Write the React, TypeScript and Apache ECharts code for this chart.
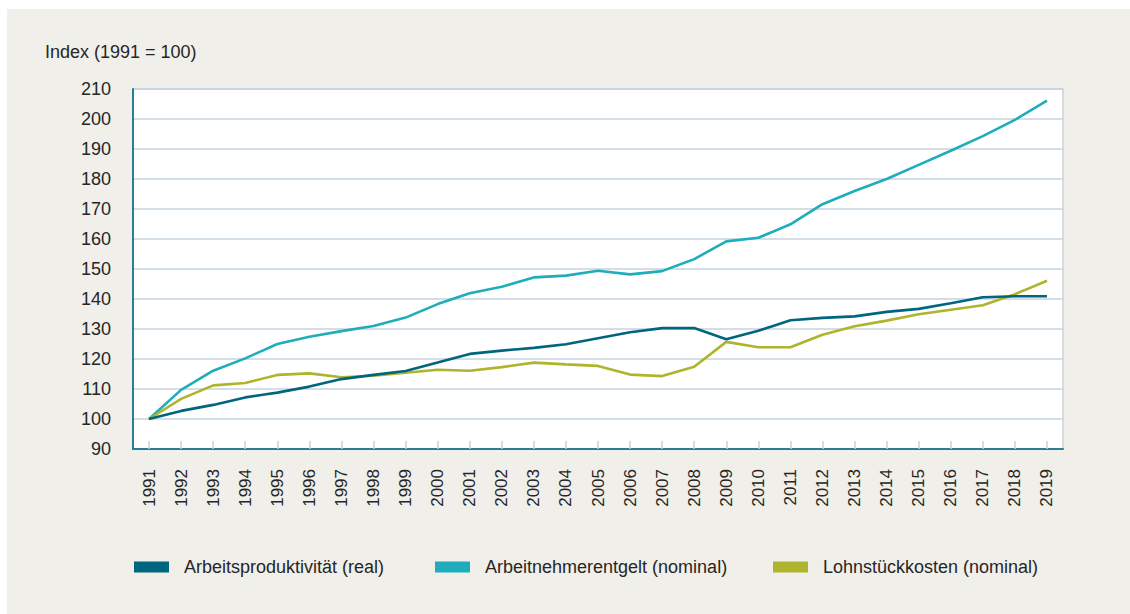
import React, { useEffect, useRef } from "react";
import * as echarts from "echarts";

const years = ["1991","1992","1993","1994","1995","1996","1997","1998","1999","2000","2001","2002","2003","2004","2005","2006","2007","2008","2009","2010","2011","2012","2013","2014","2015","2016","2017","2018","2019"];

const produktivitaet = [100, 102.7, 104.7, 107.2, 108.8, 110.8, 113.3, 114.7, 116.0, 118.8, 121.7, 122.8, 123.7, 124.9, 126.9, 128.9, 130.3, 130.3, 126.6, 129.4, 132.9, 133.7, 134.2, 135.7, 136.7, 138.6, 140.6, 140.9, 140.9];

const entgelt = [100, 109.7, 116.1, 120.2, 125.0, 127.4, 129.3, 131.0, 133.8, 138.3, 141.9, 144.1, 147.2, 147.8, 149.4, 148.2, 149.3, 153.3, 159.2, 160.4, 164.9, 171.6, 176.0, 180.0, 184.7, 189.4, 194.3, 199.7, 206.1];

const lohnstueck = [100, 106.7, 111.2, 112.0, 114.7, 115.2, 113.9, 114.4, 115.4, 116.4, 116.1, 117.3, 118.8, 118.2, 117.7, 114.8, 114.3, 117.4, 125.7, 123.9, 123.9, 128.1, 130.9, 132.8, 134.9, 136.4, 137.9, 141.6, 146.1];

const seriesNames = ["Arbeitsproduktivität (real)", "Arbeitnehmerentgelt (nominal)", "Lohnstückkosten (nominal)"];
const seriesColors = ["#00657f", "#1fadbb", "#aeb42b"];
const yTitle = "Index (1991 = 100)";

const FONT = "Liberation Sans";
const TEXT = "#262626";

export default function App() {
  const ref = useRef<HTMLDivElement>(null);
  useEffect(() => {
    if (!ref.current) return;
    const chart = echarts.init(ref.current, undefined, { renderer: "svg" });
    const dataSets = [produktivitaet, entgelt, lohnstueck];
    const legendLefts = [122, 423, 761];
    chart.setOption({
      animation: false,
      backgroundColor: "#f0efe9",
      textStyle: { fontFamily: FONT },
      title: {
        text: yTitle,
        left: 33,
        top: 29,
        textStyle: { fontFamily: FONT, fontSize: 18, fontWeight: "normal", color: TEXT },
      },
      legend: seriesNames.map((n, i) => ({
        data: [n],
        left: legendLefts[i],
        top: 544,
        itemWidth: 35,
        itemHeight: 11,
        icon: "rect",
        textStyle: { fontFamily: FONT, fontSize: 18, color: TEXT, padding: [0, 0, 0, 10] },
      })),
      grid: {
        left: 126,
        top: 80,
        width: 930,
        height: 360,
        show: true,
        backgroundColor: "#ffffff",
        borderColor: "#c5d3de",
        borderWidth: 1.5,
      },
      xAxis: {
        type: "category",
        data: years,
        boundaryGap: true,
        axisLine: { lineStyle: { color: "#2a7d93", width: 2 } },
        axisTick: { show: true, inside: true, alignWithLabel: true, length: 8, lineStyle: { color: "#c5d3de", width: 1.5 } },
        axisLabel: { rotate: 90, fontFamily: FONT, fontSize: 17, color: TEXT, margin: 20, interval: 0 },
        splitLine: { show: false },
      },
      yAxis: {
        type: "value",
        min: 90,
        max: 210,
        interval: 10,
        axisLine: { show: true, lineStyle: { color: "#2a7d93", width: 2 } },
        axisTick: { show: false },
        axisLabel: { fontFamily: FONT, fontSize: 18, color: TEXT, margin: 22 },
        splitLine: { show: true, lineStyle: { color: "#c5d3de", width: 1.5 } },
      },
      series: seriesNames.map((n, i) => ({
        name: n,
        type: "line",
        data: dataSets[i],
        symbol: "none",
        smooth: false,
        color: seriesColors[i],
        lineStyle: { color: seriesColors[i], width: 2.6 },
        z: i === 0 ? 4 : 3,
      })),
    });
    return () => chart.dispose();
  }, []);
  return (
    <div
      ref={ref}
      style={{ position: "fixed", left: 7, top: 9, width: 1123, height: 605 }}
    />
  );
}
